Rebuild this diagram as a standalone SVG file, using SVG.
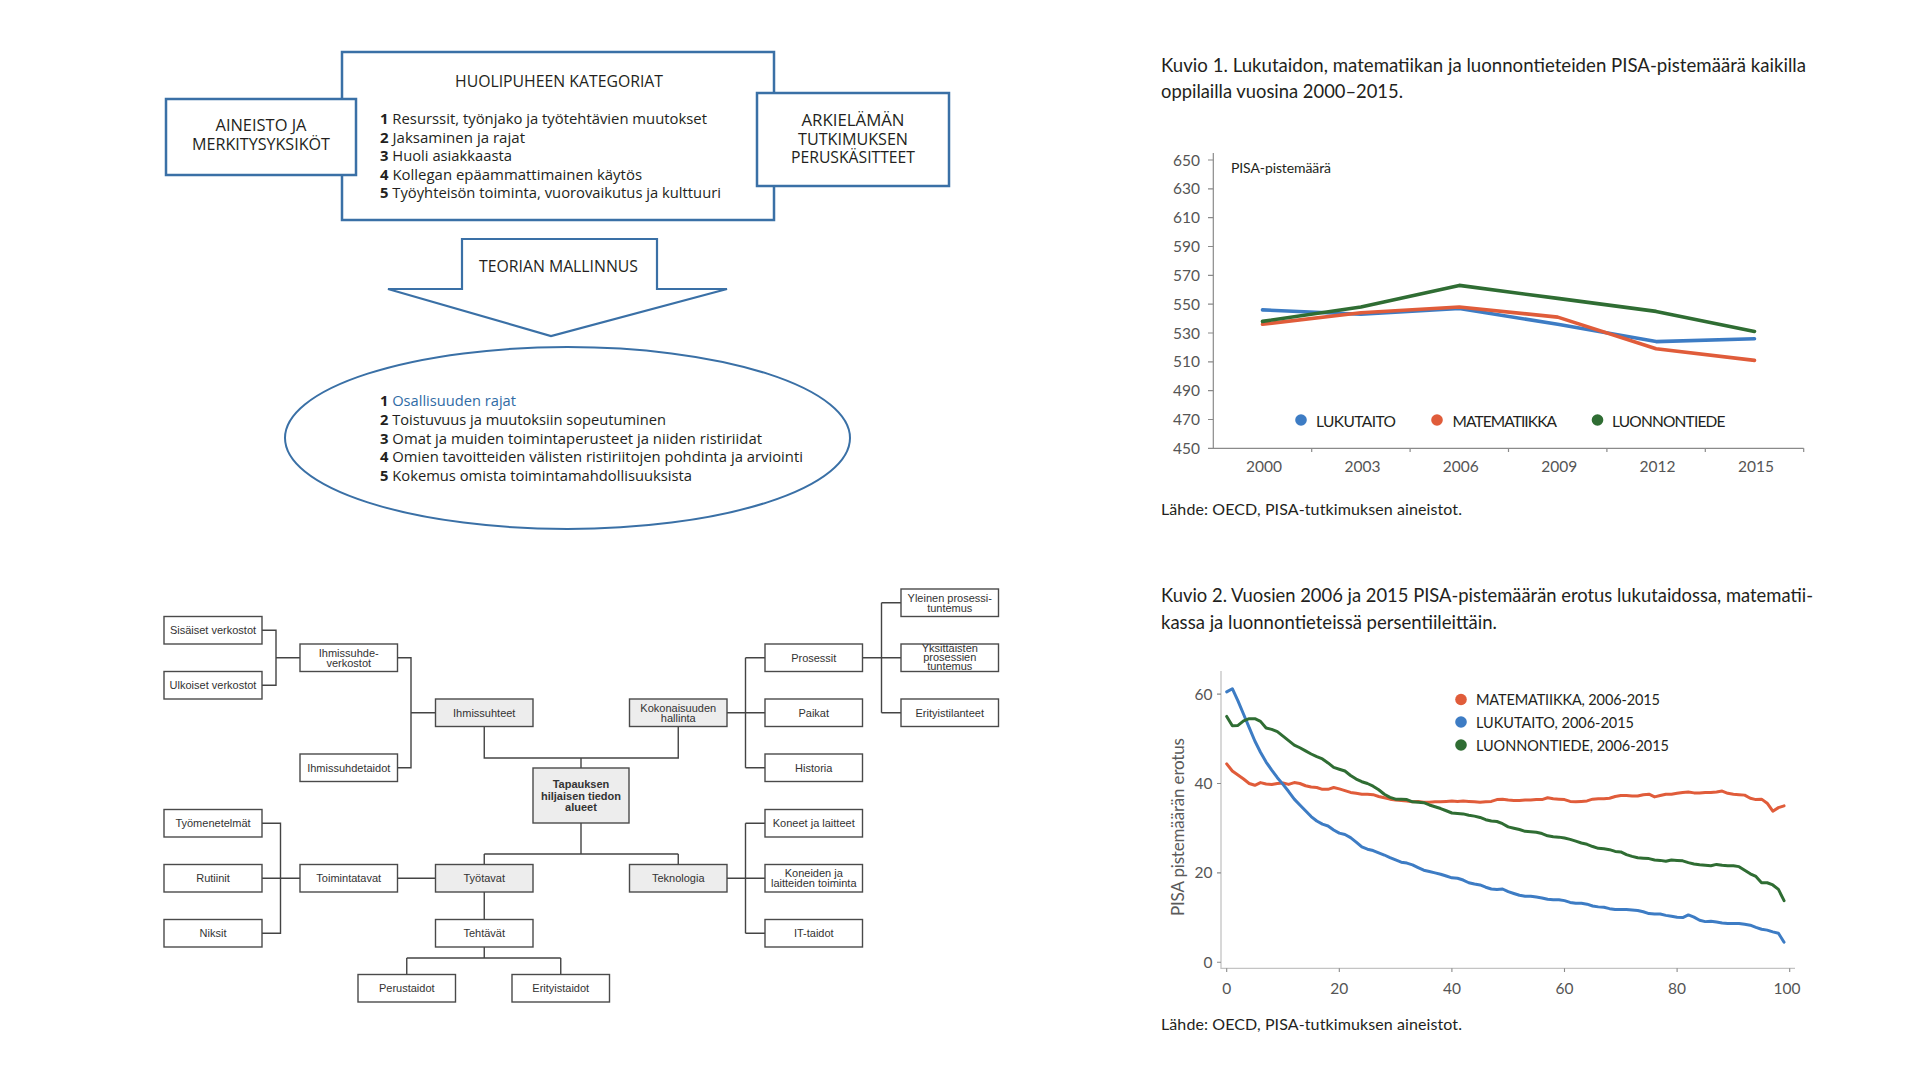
<svg xmlns="http://www.w3.org/2000/svg" width="1920" height="1080" viewBox="0 0 1920 1080">
<style>
.bx{fill:#fff;stroke:#3a70a6;stroke-width:2.5}
.lt{font-family:"Open Sans","Noto Sans",sans-serif;fill:#231f20}
.cap{font-size:16px;text-anchor:middle}
.li{font-size:14.5px}
.el{font-size:15px}
.tb{fill:#fff;stroke:#4a4a4a;stroke-width:1.4}
.ts{fill:#ededed;stroke:#4a4a4a;stroke-width:1.4}
.tt{font-family:"Liberation Sans",Arial,sans-serif;font-size:11px;fill:#333;text-anchor:middle}
.tc{fill:none;stroke:#444;stroke-width:1.4}
.ct{font-family:Lato,"Open Sans",sans-serif;fill:#231f20}
.ax{font-family:Lato,"Open Sans",sans-serif;fill:#555;font-size:15.5px}
.ser{fill:none;stroke-linejoin:round;stroke-linecap:round}
</style>

<!-- ============ Top-left conceptual diagram ============ -->
<g id="huolipuhe">
  <rect class="bx" x="342" y="52" width="432" height="168"/>
  <text class="lt cap" x="559" y="87" textLength="208" lengthAdjust="spacingAndGlyphs">HUOLIPUHEEN KATEGORIAT</text>
  <text class="lt li" x="380" y="124" textLength="327" lengthAdjust="spacingAndGlyphs"><tspan font-weight="bold">1</tspan> Resurssit, työnjako ja työtehtävien muutokset</text>
  <text class="lt li" x="380" y="142.5" textLength="145" lengthAdjust="spacingAndGlyphs"><tspan font-weight="bold">2</tspan> Jaksaminen ja rajat</text>
  <text class="lt li" x="380" y="161" textLength="132" lengthAdjust="spacingAndGlyphs"><tspan font-weight="bold">3</tspan> Huoli asiakkaasta</text>
  <text class="lt li" x="380" y="179.5" textLength="262" lengthAdjust="spacingAndGlyphs"><tspan font-weight="bold">4</tspan> Kollegan epäammattimainen käytös</text>
  <text class="lt li" x="380" y="198" textLength="341" lengthAdjust="spacingAndGlyphs"><tspan font-weight="bold">5</tspan> Työyhteisön toiminta, vuorovaikutus ja kulttuuri</text>
</g>
<g id="aineisto">
  <rect class="bx" x="166" y="99" width="190" height="76"/>
  <text class="lt cap" x="261" y="131" textLength="91" lengthAdjust="spacingAndGlyphs">AINEISTO JA</text>
  <text class="lt cap" x="261" y="150" textLength="138" lengthAdjust="spacingAndGlyphs">MERKITYSYKSIKÖT</text>
</g>
<g id="arkielama">
  <rect class="bx" x="757" y="93" width="192" height="93"/>
  <text class="lt cap" x="853" y="126" textLength="103" lengthAdjust="spacingAndGlyphs">ARKIELÄMÄN</text>
  <text class="lt cap" x="853" y="144.5" textLength="110" lengthAdjust="spacingAndGlyphs">TUTKIMUKSEN</text>
  <text class="lt cap" x="853" y="163" textLength="124" lengthAdjust="spacingAndGlyphs">PERUSKÄSITTEET</text>
</g>
<g id="teorian-mallinnus">
  <polygon points="462,289 462,239 657,239 657,289 727,289 551,336 388,289" fill="#fff" stroke="#3a70a6" stroke-width="2.2" stroke-linejoin="miter"/>
  <text class="lt" x="558.5" y="272" font-size="16px" text-anchor="middle" textLength="159" lengthAdjust="spacingAndGlyphs">TEORIAN MALLINNUS</text>
</g>
<g id="tulokset">
  <ellipse cx="567.5" cy="438" rx="282.5" ry="91" fill="#fff" stroke="#3a70a6" stroke-width="2"/>
  <text class="lt el" x="380" y="406" textLength="136" lengthAdjust="spacingAndGlyphs"><tspan font-weight="bold">1</tspan> <tspan fill="#2f6ba5">Osallisuuden rajat</tspan></text>
  <text class="lt el" x="380" y="425" textLength="286" lengthAdjust="spacingAndGlyphs"><tspan font-weight="bold">2</tspan> Toistuvuus ja muutoksiin sopeutuminen</text>
  <text class="lt el" x="380" y="443.5" textLength="382" lengthAdjust="spacingAndGlyphs"><tspan font-weight="bold">3</tspan> Omat ja muiden toimintaperusteet ja niiden ristiriidat</text>
  <text class="lt el" x="380" y="462" textLength="423" lengthAdjust="spacingAndGlyphs"><tspan font-weight="bold">4</tspan> Omien tavoitteiden välisten ristiriitojen pohdinta ja arviointi</text>
  <text class="lt el" x="380" y="481" textLength="312" lengthAdjust="spacingAndGlyphs"><tspan font-weight="bold">5</tspan> Kokemus omista toimintamahdollisuuksista</text>
</g>

<!-- ============ Bottom-left tree ============ -->
<g id="tree-connectors">
  <path class="tc" d="M262,630.25 H276 V685.25 H262 M276,657.75 H300"/>
  <path class="tc" d="M397.5,657.75 H411 V767.75 H397.5 M411,712.75 H435.5"/>
  <path class="tc" d="M484.25,726.5 V758 H678.25 V726.5 M581,758 V768"/>
  <path class="tc" d="M727,712.75 H745.5 M745.5,657.75 V767.75 M745.5,657.75 H765 M745.5,712.75 H765 M745.5,767.75 H765"/>
  <path class="tc" d="M862.5,657.75 H881.5 M881.5,602.75 V712.75 M881.5,602.75 H901 M881.5,657.75 H901 M881.5,712.75 H901"/>
  <path class="tc" d="M581,823 V854 M484.25,854 H678.25 M484.25,854 V864.5 M678.25,854 V864.5"/>
  <path class="tc" d="M397.5,878.25 H435.5"/>
  <path class="tc" d="M262,823.25 H280.5 V933.25 H262 M262,878.25 H300"/>
  <path class="tc" d="M484.25,892 V919.5"/>
  <path class="tc" d="M484.25,947 V958 M406.75,958 H560.75 M406.75,958 V974.5 M560.75,958 V974.5"/>
  <path class="tc" d="M727,878.25 H745.5 M745.5,823.25 V933.25 M745.5,823.25 H765 M745.5,878.25 H765 M745.5,933.25 H765"/>
</g>

<g id="sisaiset-verkostot"><rect class="tb" x="164" y="616.5" width="98" height="27.5"/><text class="tt" x="213" y="634.25">Sisäiset verkostot</text></g>
<g id="ulkoiset-verkostot"><rect class="tb" x="164" y="671.5" width="98" height="27.5"/><text class="tt" x="213" y="689.25">Ulkoiset verkostot</text></g>
<g id="ihmissuhdeverkostot"><rect class="tb" x="300" y="644" width="97.5" height="27.5"/><text class="tt" x="348.75" y="656.5">Ihmissuhde-</text><text class="tt" x="348.75" y="666.5">verkostot</text></g>
<g id="ihmissuhdetaidot"><rect class="tb" x="300" y="754" width="97.5" height="27.5"/><text class="tt" x="348.75" y="771.75">Ihmissuhdetaidot</text></g>
<g id="ihmissuhteet"><rect class="ts" x="435.5" y="699" width="97.5" height="27.5"/><text class="tt" x="484.25" y="716.75">Ihmissuhteet</text></g>
<g id="tapauksen-alueet"><rect class="ts" x="533" y="768" width="96" height="55"/><text class="tt" x="581" y="788" font-weight="bold" font-size="11.5px">Tapauksen</text><text class="tt" x="581" y="799.5" font-weight="bold" font-size="11.5px">hiljaisen tiedon</text><text class="tt" x="581" y="811" font-weight="bold" font-size="11.5px">alueet</text></g>
<g id="kokonaisuuden-hallinta"><rect class="ts" x="629.5" y="699" width="97.5" height="27.5"/><text class="tt" x="678.25" y="711.5">Kokonaisuuden</text><text class="tt" x="678.25" y="721.5">hallinta</text></g>
<g id="prosessit"><rect class="tb" x="765" y="644" width="97.5" height="27.5"/><text class="tt" x="813.75" y="661.75">Prosessit</text></g>
<g id="paikat"><rect class="tb" x="765" y="699" width="97.5" height="27.5"/><text class="tt" x="813.75" y="716.75">Paikat</text></g>
<g id="historia"><rect class="tb" x="765" y="754" width="97.5" height="27.5"/><text class="tt" x="813.75" y="771.75">Historia</text></g>
<g id="yleinen-prosessituntemus"><rect class="tb" x="901" y="589" width="97.5" height="27.5"/><text class="tt" x="949.75" y="601.5">Yleinen prosessi-</text><text class="tt" x="949.75" y="611.5">tuntemus</text></g>
<g id="yksittaisten-prosessien-tuntemus"><rect class="tb" x="901" y="644" width="97.5" height="27.5"/><text class="tt" x="949.75" y="651.5" font-size="10.5px">Yksittäisten</text><text class="tt" x="949.75" y="661" font-size="10.5px">prosessien</text><text class="tt" x="949.75" y="670" font-size="10.5px">tuntemus</text></g>
<g id="erityistilanteet"><rect class="tb" x="901" y="699" width="97.5" height="27.5"/><text class="tt" x="949.75" y="716.75">Erityistilanteet</text></g>
<g id="tyomenetelmat"><rect class="tb" x="164" y="809.5" width="98" height="27.5"/><text class="tt" x="213" y="827.25">Työmenetelmät</text></g>
<g id="rutiinit"><rect class="tb" x="164" y="864.5" width="98" height="27.5"/><text class="tt" x="213" y="882.25">Rutiinit</text></g>
<g id="niksit"><rect class="tb" x="164" y="919.5" width="98" height="27.5"/><text class="tt" x="213" y="937.25">Niksit</text></g>
<g id="toimintatavat"><rect class="tb" x="300" y="864.5" width="97.5" height="27.5"/><text class="tt" x="348.75" y="882.25">Toimintatavat</text></g>
<g id="tyotavat"><rect class="ts" x="435.5" y="864.5" width="97.5" height="27.5"/><text class="tt" x="484.25" y="882.25">Työtavat</text></g>
<g id="tehtavat"><rect class="tb" x="435.5" y="919.5" width="97.5" height="27.5"/><text class="tt" x="484.25" y="937.25">Tehtävät</text></g>
<g id="perustaidot"><rect class="tb" x="358" y="974.5" width="97.5" height="27.5"/><text class="tt" x="406.75" y="992.25">Perustaidot</text></g>
<g id="erityistaidot"><rect class="tb" x="512" y="974.5" width="97.5" height="27.5"/><text class="tt" x="560.75" y="992.25">Erityistaidot</text></g>
<g id="teknologia"><rect class="ts" x="629.5" y="864.5" width="97.5" height="27.5"/><text class="tt" x="678.25" y="882.25">Teknologia</text></g>
<g id="koneet-ja-laitteet"><rect class="tb" x="765" y="809.5" width="97.5" height="27.5"/><text class="tt" x="813.75" y="827.25">Koneet ja laitteet</text></g>
<g id="koneiden-toiminta"><rect class="tb" x="765" y="864.5" width="97.5" height="27.5"/><text class="tt" x="813.75" y="876.5">Koneiden ja</text><text class="tt" x="813.75" y="886.5">laitteiden toiminta</text></g>
<g id="it-taidot"><rect class="tb" x="765" y="919.5" width="97.5" height="27.5"/><text class="tt" x="813.75" y="937.25">IT-taidot</text></g>

<!-- ============ Chart 1 ============ -->
<g id="chart1">
  <text class="ct" x="1161" y="71.5" font-size="20px" textLength="645" lengthAdjust="spacingAndGlyphs">Kuvio 1. Lukutaidon, matematiikan ja luonnontieteiden PISA-pistemäärä kaikilla</text>
  <text class="ct" x="1161" y="98" font-size="20px" textLength="242" lengthAdjust="spacingAndGlyphs">oppilailla vuosina 2000–2015.</text>
  <g stroke="#8a8a8a" stroke-width="1.2" fill="none">
    <path d="M1213.3,153 V448.3 H1803.7"/>
    <path d="M1208,160 H1213.3 M1208,188.8 H1213.3 M1208,217.7 H1213.3 M1208,246.5 H1213.3 M1208,275.3 H1213.3 M1208,304.2 H1213.3 M1208,333 H1213.3 M1208,361.8 H1213.3 M1208,390.7 H1213.3 M1208,419.5 H1213.3 M1208,448.3 H1213.3"/>
    <path d="M1311.7,448.3 V452 M1410.1,448.3 V452 M1508.5,448.3 V452 M1606.9,448.3 V452 M1705.3,448.3 V452 M1803.7,448.3 V452"/>
  </g>
  <g class="ax" text-anchor="end">
    <text x="1200" y="165.5">650</text><text x="1200" y="194.3">630</text><text x="1200" y="223.2">610</text><text x="1200" y="252">590</text><text x="1200" y="280.8">570</text><text x="1200" y="309.7">550</text><text x="1200" y="338.5">530</text><text x="1200" y="367.3">510</text><text x="1200" y="396.2">490</text><text x="1200" y="425">470</text><text x="1200" y="453.8">450</text>
  </g>
  <g class="ax" text-anchor="middle">
    <text x="1264" y="471.5">2000</text><text x="1362.4" y="471.5">2003</text><text x="1460.8" y="471.5">2006</text><text x="1559.2" y="471.5">2009</text><text x="1657.6" y="471.5">2012</text><text x="1756" y="471.5">2015</text>
  </g>
  <text class="ct" x="1231" y="173.3" font-size="14px" textLength="100">PISA-pistemäärä</text>
  <polyline class="ser" stroke="#3d7cc4" stroke-width="3.6" points="1262.5,309.9 1360.9,314.2 1459.3,308.5 1557.7,324.3 1656.1,341.6 1754.5,338.7"/>
  <polyline class="ser" stroke="#e05c3a" stroke-width="3.6" points="1262.5,324.3 1360.9,312.8 1459.3,307 1557.7,317.1 1656.1,348.8 1754.5,360.4"/>
  <polyline class="ser" stroke="#2f6d33" stroke-width="3.6" points="1262.5,321.4 1360.9,307 1459.3,285.4 1557.7,298.4 1656.1,311.4 1754.5,331.5"/>
  <circle cx="1301" cy="420" r="5.8" fill="#3d7cc4"/>
  <text class="ct" x="1316" y="426.5" font-size="15.5px" textLength="80">LUKUTAITO</text>
  <circle cx="1437" cy="420" r="5.8" fill="#e05c3a"/>
  <text class="ct" x="1452.5" y="426.5" font-size="15.5px" textLength="104.5">MATEMATIIKKA</text>
  <circle cx="1597.5" cy="420" r="5.8" fill="#2f6d33"/>
  <text class="ct" x="1612" y="426.5" font-size="15.5px" textLength="113.5">LUONNONTIEDE</text>
  <text class="ct" x="1161" y="515" font-size="16px" textLength="301">Lähde: OECD, PISA-tutkimuksen aineistot.</text>
</g>

<!-- ============ Chart 2 ============ -->
<g id="chart2">
  <text class="ct" x="1161" y="601.5" font-size="20px" textLength="652" lengthAdjust="spacingAndGlyphs">Kuvio 2. Vuosien 2006 ja 2015 PISA-pistemäärän erotus lukutaidossa, matematii-</text>
  <text class="ct" x="1161" y="628.5" font-size="20px" textLength="336" lengthAdjust="spacingAndGlyphs">kassa ja luonnontieteissä persentiileittäin.</text>
  <g stroke="#c4c4c4" stroke-width="1.3" fill="none">
    <path d="M1221,671 V968.3 H1795"/>
  </g>
  <g stroke="#8a8a8a" stroke-width="1.1" fill="none">
    <path d="M1217,694.1 H1221 M1217,783.5 H1221 M1217,872.9 H1221 M1217,962.3 H1221"/>
    <path d="M1226.7,968.3 V972 M1339.3,968.3 V972 M1451.9,968.3 V972 M1564.5,968.3 V972 M1677.1,968.3 V972 M1789.7,968.3 V972"/>
  </g>
  <g class="ax" text-anchor="end">
    <text x="1212.5" y="699.6">60</text><text x="1212.5" y="789">40</text><text x="1212.5" y="878.4">20</text><text x="1212.5" y="967.8">0</text>
  </g>
  <g class="ax" text-anchor="middle">
    <text x="1226.7" y="993.5">0</text><text x="1339.3" y="993.5">20</text><text x="1451.9" y="993.5">40</text><text x="1564.5" y="993.5">60</text><text x="1677.1" y="993.5">80</text><text x="1787" y="993.5">100</text>
  </g>
  <text x="1184" y="827" transform="rotate(-90 1184 827)" font-family="Lato,'Open Sans',sans-serif" font-size="17px" fill="#5a5a5a" text-anchor="middle" textLength="178">PISA pistemäärän erotus</text>
  <g transform="translate(1226.7 962.3) scale(5.63 -4.47)">
    <polyline class="ser" stroke="#e05c3a" stroke-width="3" vector-effect="non-scaling-stroke" points="0,44.4 1,42.8 2,41.9 3,41.0 4,40.0 5,39.6 6,40.2 7,39.9 8,39.8 9,40.0 10,40.1 11,39.8 12,40.2 13,40.0 14,39.5 15,39.2 16,39.1 17,38.7 18,38.7 19,39.1 20,38.8 21,38.4 22,38.0 23,37.8 24,37.6 25,37.6 26,37.5 27,37.1 28,36.8 29,36.5 30,36.3 31,36.2 32,36.1 33,35.9 34,36.0 35,35.8 36,35.8 37,35.9 38,35.9 39,36.0 40,36.1 41,36.0 42,36.1 43,36.0 44,35.9 45,35.8 46,35.9 47,36.0 48,36.4 49,36.5 50,36.3 51,36.2 52,36.2 53,36.3 54,36.3 55,36.4 56,36.4 57,36.8 58,36.6 59,36.5 60,36.4 61,36.0 62,35.9 63,36.0 64,36.1 65,36.5 66,36.6 67,36.6 68,36.7 69,37.1 70,37.3 71,37.3 72,37.2 73,37.2 74,37.5 75,37.6 76,37.0 77,37.3 78,37.6 79,37.6 80,37.8 81,38.0 82,38.1 83,37.9 84,37.9 85,38.0 86,38.0 87,38.1 88,38.3 89,37.8 90,37.6 91,37.5 92,37.4 93,36.7 94,36.4 95,36.5 96,35.6 97,33.8 98,34.6 99,35.0"/>
    <polyline class="ser" stroke="#3d7cc4" stroke-width="3" vector-effect="non-scaling-stroke" points="0,60.5 1,61.2 2,58.5 3,55.5 4,52.5 5,49.5 6,47.0 7,44.8 8,43.0 9,41.3 10,39.8 11,38.2 12,36.5 13,35.2 14,33.9 15,32.6 16,31.6 17,30.9 18,30.5 19,29.6 20,28.9 21,28.6 22,27.9 23,26.9 24,25.8 25,25.3 26,25.0 27,24.5 28,24.0 29,23.4 30,22.9 31,22.4 32,22.2 33,21.8 34,21.2 35,20.6 36,20.3 37,20.0 38,19.7 39,19.3 40,18.9 41,18.8 42,18.4 43,17.8 44,17.5 45,17.3 46,16.8 47,16.4 48,16.3 49,16.4 50,15.8 51,15.4 52,15.0 53,14.8 54,14.8 55,14.6 56,14.4 57,14.1 58,14.0 59,14.0 60,13.8 61,13.4 62,13.2 63,13.2 64,13.0 65,12.6 66,12.4 67,12.3 68,12.0 69,11.8 70,11.8 71,11.8 72,11.7 73,11.6 74,11.3 75,10.9 76,10.8 77,10.8 78,10.5 79,10.3 80,10.1 81,10.0 82,10.6 83,10.1 84,9.4 85,9.1 86,9.2 87,9.0 88,8.8 89,8.7 90,8.7 91,8.7 92,8.5 93,8.3 94,7.8 95,7.4 96,7.2 97,6.8 98,6.5 99,4.5"/>
    <polyline class="ser" stroke="#2f6d33" stroke-width="3" vector-effect="non-scaling-stroke" points="0,55.0 1,52.9 2,53.0 3,54.0 4,54.5 5,54.5 6,53.9 7,52.4 8,52.1 9,51.6 10,50.6 11,49.6 12,48.6 13,48.0 14,47.3 15,46.6 16,46.0 17,45.5 18,44.6 19,43.6 20,43.2 21,42.8 22,41.8 23,41.0 24,40.4 25,40.0 26,39.4 27,38.6 28,37.6 29,36.9 30,36.5 31,36.5 32,36.4 33,35.9 34,35.8 35,35.7 36,35.2 37,34.8 38,34.4 39,33.9 40,33.4 41,33.3 42,33.2 43,32.9 44,32.7 45,32.4 46,31.9 47,31.6 48,31.5 49,31.0 50,30.3 51,30.0 52,29.7 53,29.3 54,29.2 55,29.1 56,28.8 57,28.3 58,28.1 59,28.0 60,27.8 61,27.5 62,27.1 63,26.7 64,26.4 65,25.9 66,25.5 67,25.4 68,25.2 69,24.8 70,24.7 71,24.1 72,23.7 73,23.4 74,23.3 75,23.2 76,22.9 77,22.8 78,22.6 79,22.9 80,22.8 81,22.7 82,22.3 83,22.0 84,21.8 85,21.7 86,21.6 87,21.9 88,21.7 89,21.6 90,21.6 91,21.4 92,20.6 93,19.8 94,19.2 95,17.8 96,17.8 97,17.3 98,16.3 99,13.8"/>
  </g>
  <circle cx="1461" cy="699.5" r="5.8" fill="#e05c3a"/>
  <text class="ct" x="1476" y="705" font-size="14.5px" textLength="184">MATEMATIIKKA, 2006-2015</text>
  <circle cx="1461" cy="722" r="5.8" fill="#3d7cc4"/>
  <text class="ct" x="1476" y="727.5" font-size="14.5px" textLength="158">LUKUTAITO, 2006-2015</text>
  <circle cx="1461" cy="745" r="5.8" fill="#2f6d33"/>
  <text class="ct" x="1476" y="750.5" font-size="14.5px" textLength="193">LUONNONTIEDE, 2006-2015</text>
  <text class="ct" x="1161" y="1030" font-size="16px" textLength="301">Lähde: OECD, PISA-tutkimuksen aineistot.</text>
</g>
</svg>
